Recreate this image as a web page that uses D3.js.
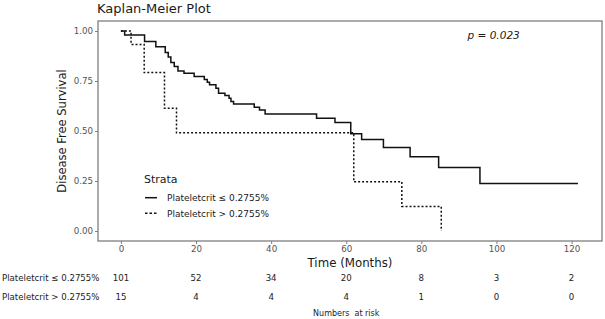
<!DOCTYPE html>
<html>
<head>
<meta charset="utf-8">
<script src="https://cdn.jsdelivr.net/npm/d3@7"></script>
<style>
  html, body { margin: 0; padding: 0; background: #fff; overflow: hidden; }
  svg { display: block; font-family: "DejaVu Sans", sans-serif; }
</style>
</head>
<body>
<div id="chart"></div>
<script>
// step points [month, survival]
const lowGroup = [
  [0, 1.0], [1.0, 0.980], [6.3, 0.947], [9.3, 0.921], [11.8, 0.892],
  [12.6, 0.870], [13.3, 0.842], [14.2, 0.822], [15.2, 0.800], [16.8, 0.789],
  [19.5, 0.772], [22.2, 0.758], [23.0, 0.744], [23.6, 0.731], [25.3, 0.714],
  [26.0, 0.689], [27.7, 0.678], [28.8, 0.664], [29.3, 0.647], [30.0, 0.635],
  [35.5, 0.619], [36.9, 0.605], [38.4, 0.585], [52.1, 0.564], [57.0, 0.542],
  [61.2, 0.486], [64.1, 0.457], [69.9, 0.418], [77.0, 0.371], [84.6, 0.318],
  [95.6, 0.238], [121.7, 0.238]
];
const highGroup = [
  [0, 1.0], [2.7, 0.933], [6.2, 0.792], [11.6, 0.614], [14.8, 0.491],
  [62.0, 0.246], [74.8, 0.123], [85.3, 0.0]
];

const strataLabels = ['Plateletcrit \u2264 0.2755%', 'Plateletcrit > 0.2755%'];
const riskTimes = [0, 20, 40, 60, 80, 100, 120];
const riskLow = [101, 52, 34, 20, 8, 3, 2];
const riskHigh = [15, 4, 4, 4, 1, 0, 0];
const xTicks = [0, 20, 40, 60, 80, 100, 120];
const yTicks = [0, 0.25, 0.5, 0.75, 1];
const pLabel = 'p = 0.023';

const width = 605, height = 319;
const margin = { top: 21, right: 3, bottom: 78, left: 98 };
const innerWidth = width - margin.left - margin.right;
const innerHeight = height - margin.top - margin.bottom;

const xScale = d3.scaleLinear()
  .domain([-6.1, 128.1])
  .range([0, innerWidth]);
const yScale = d3.scaleLinear()
  .domain([-0.05, 1.05])
  .range([innerHeight, 0]);

const svg = d3.select('#chart').append('svg')
  .attr('width', width)
  .attr('height', height);

svg.append('text')
  .attr('x', 97)
  .attr('y', 13)
  .attr('font-size', 13)
  .attr('fill', '#1a1a1a')
  .text('Kaplan-Meier Plot');

const g = svg.append('g')
  .attr('transform', `translate(${margin.left},${margin.top})`);

// axes
const xAxis = d3.axisBottom(xScale).tickValues(xTicks).tickSize(3).tickPadding(2);
const yAxis = d3.axisLeft(yScale).tickValues(yTicks).tickSize(3).tickPadding(2)
  .tickFormat(d3.format('.2f'));

const xAxisG = g.append('g')
  .attr('transform', `translate(0,${innerHeight})`)
  .call(xAxis);
const yAxisG = g.append('g').call(yAxis);

[xAxisG, yAxisG].forEach(a => {
  a.select('.domain').remove();
  a.selectAll('line').attr('stroke', '#7f7f7f');
  a.selectAll('text')
    .attr('fill', '#555')
    .attr('font-size', 8.7)
    .attr('font-family', '"DejaVu Sans", sans-serif');
});

// panel border
g.append('rect')
  .attr('width', innerWidth)
  .attr('height', innerHeight)
  .attr('fill', 'none')
  .attr('stroke', '#7f7f7f')
  .attr('stroke-width', 1.3);

// curves
const line = d3.line()
  .x(d => xScale(d[0]))
  .y(d => yScale(d[1]))
  .curve(d3.curveStepAfter);

g.append('path')
  .attr('d', line(lowGroup))
  .attr('fill', 'none')
  .attr('stroke', '#111')
  .attr('stroke-width', 1.5);

g.append('path')
  .attr('d', line(highGroup))
  .attr('fill', 'none')
  .attr('stroke', '#111')
  .attr('stroke-width', 1.5)
  .attr('stroke-dasharray', '2,2');

// p value
g.append('text')
  .attr('x', xScale(92.3))
  .attr('y', yScale(0.96))
  .attr('font-size', 10.5)
  .attr('font-style', 'italic')
  .attr('fill', '#1a1a1a')
  .text(pLabel);

// axis titles
svg.append('text')
  .attr('x', margin.left + innerWidth / 2)
  .attr('y', 267)
  .attr('text-anchor', 'middle')
  .attr('font-size', 11.8)
  .attr('fill', '#1a1a1a')
  .text('Time (Months)');

svg.append('text')
  .attr('transform', `translate(66,${margin.top + innerHeight / 2}) rotate(-90)`)
  .attr('text-anchor', 'middle')
  .attr('font-size', 11.5)
  .attr('fill', '#1a1a1a')
  .text('Disease Free Survival');

// legend
const legend = svg.append('g').attr('transform', 'translate(144,0)');
legend.append('text')
  .attr('x', 0)
  .attr('y', 183)
  .attr('font-size', 11)
  .attr('fill', '#1a1a1a')
  .text('Strata');

strataLabels.forEach((lab, i) => {
  const yy = 197.7 + i * 15.6;
  legend.append('line')
    .attr('x1', 1).attr('x2', 13)
    .attr('y1', yy).attr('y2', yy)
    .attr('stroke', '#111')
    .attr('stroke-width', 1.5)
    .attr('stroke-dasharray', i === 1 ? '2.5,2' : null);
  legend.append('text')
    .attr('x', 23)
    .attr('y', yy + 3.2)
    .attr('font-size', 9)
    .attr('fill', '#1a1a1a')
    .text(lab);
});

// risk table
const riskRows = [riskLow, riskHigh];
riskRows.forEach((row, i) => {
  const yy = 281 + i * 18.5;
  svg.append('text')
    .attr('x', 2)
    .attr('y', yy)
    .attr('font-size', 8.6)
    .attr('fill', '#222')
    .text(strataLabels[i]);
  svg.append('g').selectAll('text')
    .data(row)
    .join('text')
    .attr('x', (d, j) => margin.left + xScale(riskTimes[j]))
    .attr('y', yy)
    .attr('text-anchor', 'middle')
    .attr('font-size', 8.6)
    .attr('fill', '#222')
    .text(d => d);
});

svg.append('text')
  .attr('x', margin.left + xScale(60))
  .attr('y', 316)
  .attr('text-anchor', 'middle')
  .attr('font-size', 8)
  .attr('fill', '#222')
  .style('white-space', 'pre')
  .text('Numbers  at risk');
</script>
</body>
</html>
